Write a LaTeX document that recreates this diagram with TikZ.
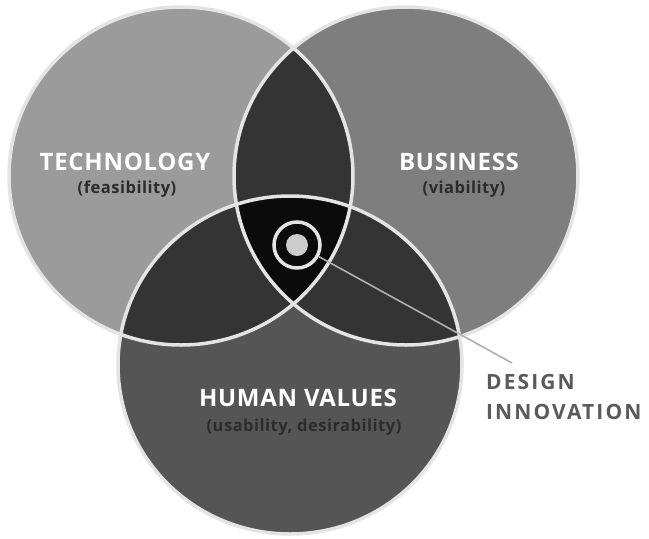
\documentclass[tikz,border=0pt]{standalone}
\usepackage{fontspec}
\setmainfont{Open Sans}
\newfontfamily\titlefont[LetterSpace=3]{Open Sans}
\newfontfamily\subfont[LetterSpace=3]{Open Sans}
\newfontfamily\calloutfont[LetterSpace=10]{Open Sans}
\definecolor{techgray}{HTML}{9B9B9B}
\definecolor{busgray}{HTML}{7E7E7E}
\definecolor{humgray}{HTML}{555555}
\definecolor{pairgray}{HTML}{343434}
\definecolor{coregray}{HTML}{0B0B0B}
\definecolor{rimgray}{HTML}{E4E4E4}
\definecolor{subgray}{HTML}{2C2C2C}
\definecolor{calloutgray}{HTML}{5A5A5A}
\definecolor{leadgray}{HTML}{B0B0B0}
\begin{document}
\begin{tikzpicture}[x=1pt,y=-1pt,
  title/.style={font=\titlefont\bfseries\fontsize{24}{26}\selectfont, text=white, inner sep=0pt},
  subtitle/.style={font=\subfont\bfseries\fontsize{16.5}{19}\selectfont, text=subgray, inner sep=0pt},
  callout/.style={font=\calloutfont\bfseries\fontsize{21}{24}\selectfont, text=calloutgray, inner sep=0pt, anchor=west},
  rim/.style={draw=rimgray, line width=3.5pt}]
\fill[white] (0,0) rectangle (649,539);
\useasboundingbox (0,0) rectangle (649,539);
% base circles
\fill[techgray] (181,176) ellipse [x radius=172pt, y radius=169pt];
\fill[busgray] (406,176) ellipse [x radius=172pt, y radius=169pt];
\fill[humgray] (290,365) ellipse [x radius=172pt, y radius=169pt];
% pairwise intersections
\begin{scope}
  \clip (181,176) ellipse [x radius=172pt, y radius=169pt];
  \fill[pairgray] (406,176) ellipse [x radius=172pt, y radius=169pt];
  \fill[pairgray] (290,365) ellipse [x radius=172pt, y radius=169pt];
\end{scope}
\begin{scope}
  \clip (406,176) ellipse [x radius=172pt, y radius=169pt];
  \fill[pairgray] (290,365) ellipse [x radius=172pt, y radius=169pt];
\end{scope}
% triple intersection
\begin{scope}
  \clip (181,176) ellipse [x radius=172pt, y radius=169pt];
  \clip (406,176) ellipse [x radius=172pt, y radius=169pt];
  \fill[coregray] (290,365) ellipse [x radius=172pt, y radius=169pt];
\end{scope}
% rims
\draw[rim] (181,176) ellipse [x radius=172pt, y radius=169pt];
\draw[rim] (406,176) ellipse [x radius=172pt, y radius=169pt];
\draw[rim] (290,365) ellipse [x radius=172pt, y radius=169pt];
% target
\node[circle, draw=rimgray, line width=3.5pt, minimum size=46pt, inner sep=0pt] (ring) at (297,245) {};
\node[circle, fill=rimgray!90!black, minimum size=22pt, inner sep=0pt] (core) at (297,245) {};
\coordinate (leadend) at (512,363);
\draw[leadgray, line width=1.6pt] (ring.-28) -- (leadend);
% labels
\node[title] (tech) at (125,162) {TECHNOLOGY};
\node[subtitle] (techsub) at (127,189) {(feasibility)};
\node[title] (bus) at (459,162) {BUSINESS};
\node[subtitle] (bussub) at (464,189) {(viability)};
\node[title] (hum) at (298,398) {HUMAN VALUES};
\node[subtitle] (humsub) at (304,427) {(usability, desirability)};
\node[callout] (design) at (486,382) {DESIGN};
\node[callout] (innov) at (486,412) {INNOVATION};
\end{tikzpicture}
\end{document}
